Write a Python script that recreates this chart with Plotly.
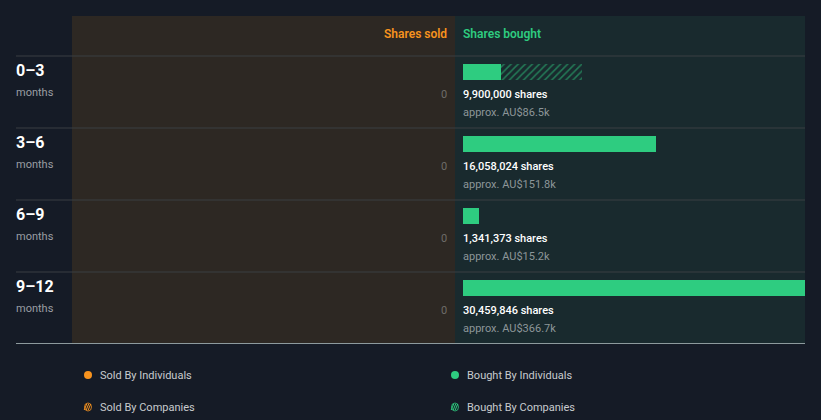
import plotly.graph_objects as go

# ---- data ----
periods = ["0–3", "3–6", "6–9", "9–12"]
period_unit = ["months", "months", "months", "months"]
sold_individuals = [0, 0, 0, 0]
sold_companies = [0, 0, 0, 0]
bought_individuals = [3150000, 16058024, 1341373, 30459846]
bought_companies = [6750000, 0, 0, 0]
bought_total_labels = ["9,900,000 shares", "16,058,024 shares", "1,341,373 shares", "30,459,846 shares"]
bought_value_labels = ["approx. AU$86.5k", "approx. AU$151.8k", "approx. AU$15.2k", "approx. AU$366.7k"]
sold_labels = ["0", "0", "0", "0"]
legend_labels = ["Sold By Individuals", "Bought By Individuals", "Sold By Companies", "Bought By Companies"]

# ---- style ----
W, H = 821, 420
BG = "#151b26"
SOLD_BG = "#2d2823"
BOUGHT_BG = "#192a2e"
GREEN = "#2ecc80"
ORANGE = "#f7931e"
FONT = "Roboto"

def py(pix):
    # pixel row -> y data units (row i bar centre at pixel 72 + 72 i)
    return (pix - 72) / 72.0

def px(pix):
    return pix / W

rows = list(range(len(periods)))
fig = go.Figure()

fig.add_trace(go.Bar(y=rows, x=bought_individuals, orientation="h", xaxis="x", yaxis="y",
                     marker=dict(color=GREEN, line=dict(width=0)), width=16/72, hoverinfo="skip",
                     showlegend=False))
fig.add_trace(go.Bar(y=rows, x=bought_companies, orientation="h", xaxis="x", yaxis="y",
                     marker=dict(color="rgba(0,0,0,0)", line=dict(width=0),
                                 pattern=dict(shape="/", fgcolor=GREEN, bgcolor="rgba(0,0,0,0)",
                                              size=5, solidity=0.3)),
                     width=16/72, hoverinfo="skip", showlegend=False))
fig.add_trace(go.Bar(y=rows, x=sold_individuals, orientation="h", xaxis="x2", yaxis="y",
                     marker=dict(color=ORANGE, line=dict(width=0)), width=16/72, hoverinfo="skip",
                     showlegend=False))
fig.add_trace(go.Bar(y=rows, x=sold_companies, orientation="h", xaxis="x2", yaxis="y",
                     marker=dict(color="rgba(0,0,0,0)", line=dict(width=0),
                                 pattern=dict(shape="/", fgcolor=ORANGE, bgcolor="rgba(0,0,0,0)",
                                              size=5, solidity=0.3)),
                     width=16/72, hoverinfo="skip", showlegend=False))

shapes = []
# panels
shapes.append(dict(type="rect", xref="paper", yref="y", x0=px(72), x1=px(455), y0=py(16), y1=py(343),
                   fillcolor=SOLD_BG, line=dict(width=0), layer="below"))
shapes.append(dict(type="rect", xref="paper", yref="y", x0=px(455), x1=px(805), y0=py(16), y1=py(343),
                   fillcolor=BOUGHT_BG, line=dict(width=0), layer="below"))
# row separators
for k in range(len(periods)):
    shapes.append(dict(type="line", xref="paper", yref="y", x0=px(16), x1=px(805),
                       y0=k - 2/9, y1=k - 2/9, line=dict(color="#3a3e42", width=1), layer="above"))
shapes.append(dict(type="line", xref="paper", yref="y", x0=px(16), x1=px(805),
                   y0=py(343.5), y1=py(343.5), line=dict(color="#8d9a9d", width=1), layer="above"))

ann = []
ann.append(dict(text="Shares sold", xref="x2", yref="y", x=0, y=py(34), xanchor="right", xshift=2,
                yanchor="middle", showarrow=False, font=dict(family=FONT, size=12, color=ORANGE, weight=600)))
ann.append(dict(text="Shares bought", xref="x", yref="y", x=0, y=py(34), xanchor="left", xshift=-2,
                yanchor="middle", showarrow=False, font=dict(family=FONT, size=12, color=GREEN, weight=600)))
for i in rows:
    ann.append(dict(text="<b>%s</b>" % periods[i], xref="paper", yref="y", x=px(16), y=i + py(70),
                    xanchor="left", yanchor="middle", showarrow=False, xshift=-2,
                    font=dict(family=FONT, size=16, color="#ffffff")))
    ann.append(dict(text=period_unit[i], xref="paper", yref="y", x=px(16), y=i + py(92),
                    xanchor="left", yanchor="middle", showarrow=False, xshift=-2,
                    font=dict(family=FONT, size=11, color="#9a9ea3")))
    ann.append(dict(text=sold_labels[i], xref="x2", yref="y", x=0, y=i + py(94),
                    xanchor="right", yanchor="middle", showarrow=False, xshift=2,
                    font=dict(family=FONT, size=11, color="#6e6c69")))
    ann.append(dict(text=bought_total_labels[i], xref="x", yref="y", x=0, y=i + py(94),
                    xanchor="left", yanchor="middle", showarrow=False, xshift=-2,
                    font=dict(family=FONT, size=11, color="#ffffff", weight=500)))
    ann.append(dict(text=bought_value_labels[i], xref="x", yref="y", x=0, y=i + py(112),
                    xanchor="left", yanchor="middle", showarrow=False, xshift=-2,
                    font=dict(family=FONT, size=11, color="#8d9699")))

# legend (2x2 grid)
leg_pos = [(88, 375), (455, 375), (88, 407), (455, 407)]
leg_col = [ORANGE, GREEN, ORANGE, GREEN]
for j, lab in enumerate(legend_labels):
    cx, cy = leg_pos[j]
    if j < 2:
        shapes.append(dict(type="circle", xref="paper", yref="y", x0=px(cx - 4), x1=px(cx + 4),
                           y0=py(cy - 4), y1=py(cy + 4), fillcolor=leg_col[j], line=dict(width=0)))
    else:
        shapes.append(dict(type="circle", xref="paper", yref="y", x0=px(cx - 3.5), x1=px(cx + 3.5),
                           y0=py(cy - 4), y1=py(cy + 4), fillcolor="rgba(0,0,0,0)",
                           line=dict(width=0.8, color=leg_col[j])))
        for d in (-1.8, 0.2, 2.2):
            shapes.append(dict(type="line", xref="paper", yref="y", x0=px(cx - 2 + d), x1=px(cx + 0.5 + d),
                               y0=py(cy + 3), y1=py(cy - 3), line=dict(width=1, color=leg_col[j])))
    ann.append(dict(text=lab, xref="paper", yref="y", x=px(cx + 12), y=py(cy), xanchor="left", xshift=-2,
                    yanchor="middle", showarrow=False, font=dict(family=FONT, size=11, color="#c8cbce")))

fig.update_layout(
    width=W, height=H, margin=dict(l=0, r=0, t=0, b=0),
    paper_bgcolor=BG, plot_bgcolor="rgba(0,0,0,0)",
    barmode="stack", bargap=0, showlegend=False,
    xaxis=dict(domain=[px(455), px(805)], range=[-8 / 12.02e-6, (805 - 463) / 12.02e-6],
               visible=False, fixedrange=True),
    xaxis2=dict(domain=[px(72), px(455)], range=[(447 - 72) / 12.02e-6, -8 / 12.02e-6],
                visible=False, fixedrange=True, anchor="y"),
    yaxis=dict(domain=[0, 1], range=[py(420), py(0)], visible=False, fixedrange=True),
    shapes=shapes, annotations=ann,
)

fig.write_html("out.html")
